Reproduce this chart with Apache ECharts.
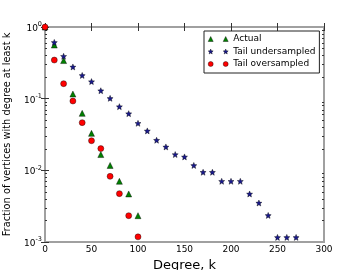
<!DOCTYPE html>
<html><head><meta charset="utf-8">
<script src="https://cdn.jsdelivr.net/npm/echarts@6/dist/echarts.min.js"></script>
<style>html,body{margin:0;padding:0;background:#fff}#c{width:360px;height:270px}</style>
</head><body><div id="c"></div>
<script>
// ---- data ----
const actualDegrees = [0,10,20,30,40,50,60,70,80,90,100];
const actualValues  = [1.0,0.56,0.34,0.116,0.0624,0.0328,0.0166,0.0117,0.00703,0.00468,0.00233];
const underDegrees  = [0,10,20,30,40,50,60,70,80,90,100,110,120,130,140,150,160,170,180,190,200,210,220,230,240,250,260,270];
const underValues   = [1.0,0.61,0.39,0.277,0.211,0.173,0.129,0.101,0.0774,0.0618,0.0453,0.0355,0.0263,0.0212,0.0166,0.0154,0.0117,0.0094,0.0094,0.00703,0.00703,0.00703,0.00468,0.0035,0.00235,0.00116,0.00116,0.00116];
const overDegrees   = [0,10,20,30,40,50,60,70,80,90,100];
const overValues    = [1.0,0.346,0.162,0.0927,0.0463,0.0259,0.0201,0.00824,0.00473,0.00233,0.00118];
const seriesNames   = ['Actual','Tail undersampled','Tail oversampled'];
const xTicks = [0,50,100,150,200,250,300];
const yMajor = [0.001,0.01,0.1,1];

// ---- symbol paths ----
function starPts(cx, cy, R) {
  const r = R * 0.45, pts = [];
  for (let i = 0; i < 10; i++) {
    const a = -Math.PI/2 + i*Math.PI/5, rr = i%2 ? r : R;
    pts.push((cx + rr*Math.cos(a)).toFixed(3) + ',' + (cy + rr*Math.sin(a)).toFixed(3));
  }
  return 'M' + pts.join(' L') + ' Z';
}
function circ(cx, cy, r) {
  return `M${cx-r},${cy} A${r},${r} 0 1,1 ${cx+r},${cy} A${r},${r} 0 1,1 ${cx-r},${cy} Z`;
}
function tri(x0, s) { return `M${x0},${s} L${x0+s/2},0 L${x0+s},${s} Z`; }
const starPath = 'path://' + starPts(10, 10, 10);
const legW = 20, legH = 5;
const legTri = 'path://' + tri(0, 5) + ' ' + tri(15, 5);
const legCirc = 'path://' + circ(2.5, 2.5, 2.5) + ' ' + circ(17.5, 2.5, 2.5);
const legStar = 'path://' + starPts(2.5, 2.5, 2.6) + ' ' + starPts(17.5, 2.5, 2.6);

const minorVals = [];
for (let e = -3; e < 0; e++) for (let m = 2; m <= 9; m++) minorVals.push(Math.log10(m) + e);
const majorLog = yMajor.map(v => Math.log10(v));

const font = 'DejaVu Sans';
const frame = '#a0a0a0';
const tickC = '#333';
const colors = ['#008000', '#1a1a8c', '#ff0000'];

const chart = echarts.init(document.getElementById('c'), null, {renderer: 'canvas'});
const grid = {left: 45, right: 36, top: 27, bottom: 28, show: true, borderColor: frame, borderWidth: 2,
  backgroundColor: 'transparent', containLabel: false, outerBoundsMode: 'none'};
const baseX = {type: 'value', min: 0, max: 300, interval: 50, gridIndex: 0,
  axisLine: {show: false}, splitLine: {show: false},
  axisTick: {show: true, inside: true, length: 4, lineStyle: {color: tickC, width: 1}}};
const pair = (xs, ys) => xs.map((x, i) => [x, ys[i]]);
const legItem = (i, icon) => ({name: seriesNames[i], icon: icon,
  itemStyle: {color: colors[i], borderColor: '#000', borderWidth: 0.4}});

chart.setOption({
  animation: false,
  textStyle: {fontFamily: font},
  grid: grid,
  legend: {
    orient: 'vertical', left: 204, top: 31,
    padding: [2, 4, 3, 4], itemGap: 0.5,
    itemWidth: legW, itemHeight: legH, symbolKeepAspect: false,
    borderColor: '#222', borderWidth: 1, backgroundColor: '#fff',
    textStyle: {fontFamily: font, fontSize: 9, color: '#000', lineHeight: 12},
    data: [legItem(0, legTri), legItem(1, legStar), legItem(2, legCirc)]
  },
  xAxis: [
    Object.assign({}, baseX, {position: 'bottom',
      name: 'Degree, k', nameLocation: 'middle', nameGap: 17,
      nameTextStyle: {fontFamily: font, fontSize: 13, color: '#000', verticalAlign: 'middle'},
      axisLabel: {show: true, margin: 3, fontFamily: font, fontSize: 9, color: '#000'}}),
    Object.assign({}, baseX, {position: 'top', axisLabel: {show: false}})
  ],
  yAxis: [
    {type: 'log', logBase: 10, min: 0.001, max: 1, position: 'left',
      axisLine: {show: false}, splitLine: {show: false}, minorTick: {show: false},
      axisTick: {show: true, inside: true, length: 4, lineStyle: {color: tickC}},
      name: 'Fraction of vertices with degree at least k', nameLocation: 'middle', nameGap: 33,
      nameTextStyle: {fontFamily: font, fontSize: 9.8, color: '#000'},
      axisLabel: {margin: 3, fontFamily: font, color: '#000',
        formatter: v => '{b|10}{s|' + Math.round(Math.log10(v)) + '}',
        rich: {b: {fontSize: 9, fontFamily: font, color: '#000', lineHeight: 12, verticalAlign: 'bottom'},
               s: {fontSize: 6.5, fontFamily: font, color: '#000', verticalAlign: 'top', lineHeight: 12}}}},
    {type: 'value', min: -3, max: 0, position: 'right',
      axisLine: {show: false}, splitLine: {show: false}, axisLabel: {show: false},
      axisTick: {show: true, inside: true, length: 4, customValues: majorLog, lineStyle: {color: tickC}}},
    {type: 'value', min: -3, max: 0, position: 'left',
      axisLine: {show: false}, splitLine: {show: false}, axisLabel: {show: false},
      axisTick: {show: true, inside: true, length: 2, customValues: minorVals, lineStyle: {color: tickC}}},
    {type: 'value', min: -3, max: 0, position: 'right',
      axisLine: {show: false}, splitLine: {show: false}, axisLabel: {show: false},
      axisTick: {show: true, inside: true, length: 2, customValues: minorVals, lineStyle: {color: tickC}}}
  ],
  series: [
    {name: seriesNames[0], type: 'scatter', xAxisIndex: 0, yAxisIndex: 0,
      symbol: 'triangle', symbolSize: 6, data: pair(actualDegrees, actualValues),
      itemStyle: {color: colors[0], borderColor: '#000', borderWidth: 0.4, opacity: 1}},
    {name: seriesNames[1], type: 'scatter', xAxisIndex: 0, yAxisIndex: 0,
      symbol: starPath, symbolSize: 6, data: pair(underDegrees, underValues),
      itemStyle: {color: colors[1], borderColor: '#000', borderWidth: 0.4, opacity: 1}},
    {name: seriesNames[2], type: 'scatter', xAxisIndex: 0, yAxisIndex: 0,
      symbol: 'circle', symbolSize: 6, data: pair(overDegrees, overValues),
      itemStyle: {color: colors[2], borderColor: '#000', borderWidth: 0.4, opacity: 1}}
  ]
});
</script></body></html>
